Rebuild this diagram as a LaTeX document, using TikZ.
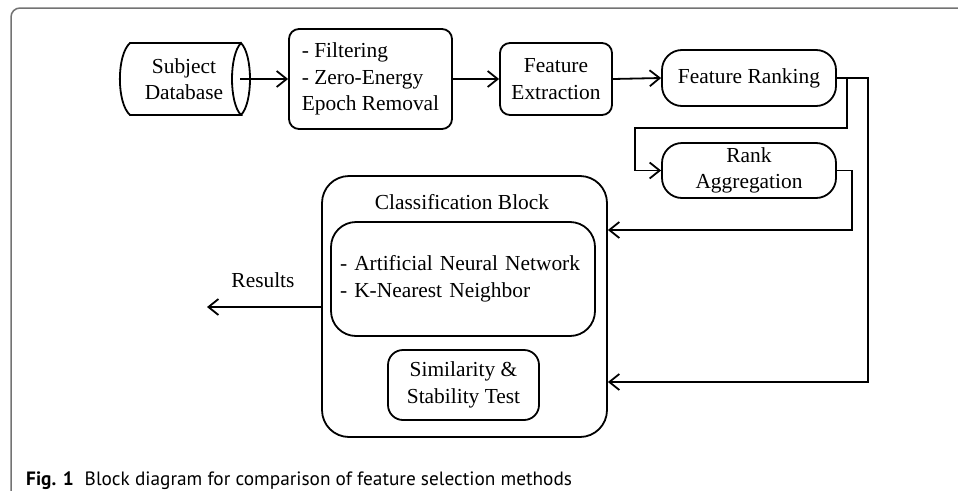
\documentclass[tikz,border=0pt]{standalone}
\usepackage{fontspec}
\setmainfont{Liberation Serif}
\newfontfamily\capfont{PT Sans}
\usetikzlibrary{arrows.meta}
\begin{document}
\begin{tikzpicture}[x=1pt,y=-1pt,
  every node/.style={font=\fontsize{21.4}{26.5}\selectfont, inner sep=0pt},
  box/.style={draw, line width=1.8pt, align=center},
  conn/.style={line width=1.8pt},
  arr/.style={conn, -{Straight Barb[length=10pt,width=16pt,line width=1.8pt]}},
  frame/.style={draw=black!55, line width=1.5pt}
]
\useasboundingbox (0,0) rectangle (958,490);
% outer frame
\draw[frame, rounded corners=9pt] (958,8) -- (11,8) -- (11,491);

% Subject database (cylinder)
\draw[line width=1.8pt] (241,43) -- (130,43) .. controls (116.5,55) and (116.5,103) .. (130,115) -- (241,115)
  .. controls (229,103) and (229,55) .. (241,43) .. controls (253,55) and (253,103) .. (241,115);
\node[align=center] (db) at (184,79) {Subject\\Database};
\coordinate (dbout) at (240,79);

\node[box, rounded corners=10pt, minimum width=163pt, minimum height=100pt, align=left] (filt) at (370.5,79)
  {- Filtering\\- Zero-Energy\\Epoch Removal};
\node[box, rounded corners=10pt, minimum width=112pt, minimum height=72pt] (fe) at (556,79)
  {Feature\\Extraction};
\node[box, rounded corners=20pt, minimum width=174pt, minimum height=56pt] (fr) at (749,78)
  {Feature Ranking};
\node[box, rounded corners=20pt, minimum width=174pt, minimum height=55pt] (ra) at (749,170.5)
  {Rank\\Aggregation};

\node[box, rounded corners=27pt, minimum width=285pt, minimum height=261pt] (cb) at (464.5,306.5) {};
\node (cbt) at (462,202) {Classification Block};
\node[box, rounded corners=25pt, minimum width=264pt, minimum height=114pt, align=left, text width=246pt] (ann) at (463,279)
  {- Artificial Neural Network\\- K-Nearest Neighbor};
\node[box, rounded corners=15pt, minimum width=151pt, minimum height=70pt] (sim) at (463.5,385)
  {Similarity \&\\Stability Test};

% connectors
\draw[arr] (dbout) -- (filt.west);
\draw[arr] (filt.east) -- (fe.west);
\draw[arr] (fe.east) -- (fr.west);
\coordinate (r1) at (847,128);
\coordinate (r2) at (635,170.5);
\draw[arr] (fr.east) -| (r1) -| (r2) -- (ra.west);
\coordinate (r3) at (868,382);
\draw[arr] (fr.east) -| (r3) -- (cb.east |- r3);
\coordinate (r4) at (852,230);
\draw[arr] (ra.east) -| (r4) -- (cb.east |- r4);
\coordinate (res) at (207,307);
\draw[arr] (cb.west |- res) -- (res);
\node (reslbl) at (263,280) {Results};

% caption
\node[anchor=base west, font=\capfont\fontsize{19.3}{22}\selectfont] (cap) at (26,485)
  {\textbf{Fig. 1}\hspace{11pt}Block diagram for comparison of feature selection methods};
\end{tikzpicture}
\end{document}
